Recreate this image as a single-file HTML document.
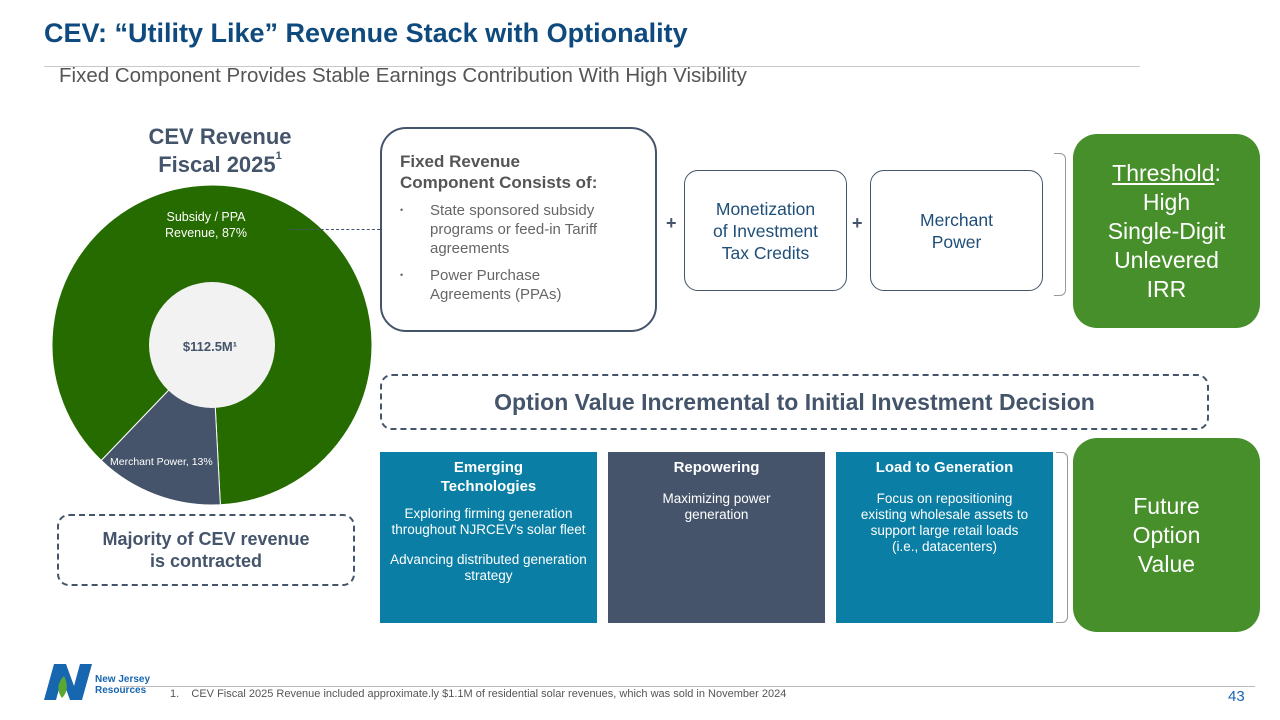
<!DOCTYPE html>
<html><head><meta charset="utf-8"><style>
*{margin:0;padding:0;box-sizing:border-box}
body{width:1280px;height:720px;background:#fff;position:relative;overflow:hidden;font-family:"Liberation Sans",sans-serif;color:#44546a}
.a{position:absolute}
.c{display:flex;flex-direction:column;align-items:center;justify-content:center;text-align:center}
.dash{border:2px dashed #44546a;border-radius:12px}
.blk{color:#fff;text-align:center;padding:6px 8px 0}
.blk b{display:block;font-size:15px;line-height:19px;margin-bottom:14px}
.blk p{font-size:13.5px;line-height:16px}
</style></head><body>
<div class="a" style="left:44px;top:18px;font-size:27px;font-weight:bold;color:#0e4a7e">CEV: “Utility Like” Revenue Stack with Optionality</div>
<div class="a" style="left:44px;top:66px;width:1096px;height:1px;background:#c8c8c8"></div>
<div class="a" style="left:59px;top:64px;font-size:20.5px;color:#555">Fixed Component Provides Stable Earnings Contribution With High Visibility</div>

<div class="a" style="left:100px;top:123px;width:240px;text-align:center;font-size:22px;font-weight:bold;line-height:28px;color:#44546a">CEV Revenue<br>Fiscal 2025<span style="font-size:11px;vertical-align:top;line-height:11px">1</span></div>

<svg class="a" id="donut" style="left:0;top:0" width="400" height="520"></svg>

<div class="a" style="left:290px;top:229px;width:90px;border-top:1px dashed #44546a"></div>

<div class="a dash c" style="left:57px;top:514px;width:298px;height:72px;font-size:18px;font-weight:bold;line-height:22px">Majority of CEV revenue<br>is contracted</div>

<div class="a" style="left:380px;top:127px;width:277px;height:205px;border:2px solid #44546a;border-radius:26px;padding:22px 30px 0 18px">
<div style="font-size:17px;font-weight:bold;line-height:21px;color:#555">Fixed Revenue<br>Component Consists of:</div>
<div style="font-size:15px;line-height:19px;color:#666;margin-top:8px;padding-left:30px;position:relative"><span style="position:absolute;left:0;font-size:9px">•</span>State sponsored subsidy programs or feed-in Tariff agreements</div>
<div style="font-size:15px;line-height:19px;color:#666;margin-top:8px;padding-left:30px;position:relative"><span style="position:absolute;left:0;font-size:9px">•</span>Power Purchase<br>Agreements (PPAs)</div>
</div>
<div class="a" style="left:666px;top:213px;font-size:18px;font-weight:bold">+</div>
<div class="a c" style="left:684px;top:170px;width:163px;height:121px;border:1px solid #44546a;border-radius:14px;font-size:17.5px;line-height:22px;color:#1f4e79">Monetization<br>of Investment<br>Tax Credits</div>
<div class="a" style="left:852px;top:213px;font-size:18px;font-weight:bold">+</div>
<div class="a c" style="left:870px;top:170px;width:173px;height:121px;border:1px solid #44546a;border-radius:14px;font-size:17.5px;line-height:22px;color:#1f4e79">Merchant<br>Power</div>
<div class="a" style="left:1054px;top:153px;width:12px;height:143px;border:1px solid #999;border-left:none;border-radius:0 6px 6px 0"></div>
<div class="a c" style="left:1073px;top:134px;width:187px;height:194px;background:#478f2a;border-radius:24px;color:#fff;font-size:23px;line-height:29px">
<span><u>Threshold</u>:</span>High<br>Single-Digit<br>Unlevered<br>IRR</div>

<div class="a dash c" style="left:380px;top:374px;width:829px;height:56px;font-size:23px;font-weight:bold;color:#44546a">Option Value Incremental to Initial Investment Decision</div>

<div class="a blk" style="left:380px;top:452px;width:217px;height:171px;background:#0a7ea4"><b>Emerging<br>Technologies</b><p style="margin-top:-4px">Exploring firming generation throughout NJRCEV’s solar fleet</p><p style="margin-top:14px">Advancing distributed generation strategy</p></div>
<div class="a blk" style="left:608px;top:452px;width:217px;height:171px;background:#45546b"><b>Repowering</b><p>Maximizing power<br>generation</p></div>
<div class="a blk" style="left:836px;top:452px;width:217px;height:171px;background:#0a7ea4"><b>Load to Generation</b><p>Focus on repositioning<br>existing wholesale assets to<br>support large retail loads<br>(i.e., datacenters)</p></div>
<div class="a" style="left:1056px;top:452px;width:12px;height:171px;border:1px solid #999;border-left:none;border-radius:0 6px 6px 0"></div>
<div class="a c" style="left:1073px;top:438px;width:187px;height:194px;background:#478f2a;border-radius:24px;color:#fff;font-size:23px;line-height:29px">Future<br>Option<br>Value</div>

<div class="a" style="left:120px;top:686px;width:1135px;height:1px;background:#bbb"></div>
<div class="a" style="left:44px;top:664px;width:48px;height:36px">
<svg width="48" height="36"><polygon points="0,36 10,0 22,0 30,22 36,0 48,0 38,36 26,36 18,14 12,36" fill="#1766b0"/><path d="M18 34 C12 26 14 18 20 12 C24 20 24 28 18 34Z" fill="#5aa832"/></svg></div>
<div class="a" style="left:95px;top:674px;font-size:10px;font-weight:bold;line-height:11px;color:#1766b0">New Jersey<br>Resources</div>
<div class="a" style="left:170px;top:688px;font-size:11px;color:#555">1.&nbsp;&nbsp;&nbsp;&nbsp;CEV Fiscal 2025 Revenue included approximate.ly $1.1M of residential solar revenues, which was sold in November 2024</div>
<div class="a" style="left:1228px;top:688px;font-size:15px;color:#1766b0">43</div>

<script>
const categories=["Subsidy / PPA Revenue","Merchant Power"];
const shares=[87,13];
const labels=["Subsidy / PPA\nRevenue, 87%","Merchant Power, 13%"];
const colors=["#256b00","#45546b"];
const svg=document.getElementById('donut');
const NS="http://www.w3.org/2000/svg";
const cx=212,cy=345,R=160,r0=63;
const total=shares.reduce((a,b)=>a+b,0);
const angleScale=v=>v/total*2*Math.PI;
let start=(177-0.87*360)*Math.PI/180;
const pt=(a,rad)=>[cx+rad*Math.sin(a),cy-rad*Math.cos(a)];
shares.forEach((v,i)=>{
  const end=start+angleScale(v);
  const [x1,y1]=pt(start,R),[x2,y2]=pt(end,R);
  const large=end-start>Math.PI?1:0;
  const p=document.createElementNS(NS,'path');
  p.setAttribute('d',`M${cx},${cy} L${x1},${y1} A${R},${R} 0 ${large} 1 ${x2},${y2} Z`);
  p.setAttribute('fill',colors[i]);
  p.setAttribute('stroke','#fff');p.setAttribute('stroke-width','1');
  
  
  svg.appendChild(p);
  start=end;
});
const hole=document.createElementNS(NS,'circle');
hole.setAttribute('cx',cx);hole.setAttribute('cy',cy);hole.setAttribute('r',r0);hole.setAttribute('fill','#f2f2f2');


svg.appendChild(hole);
function txt(x,y,s,size,fill,w,anchor){const t=document.createElementNS(NS,'text');t.setAttribute('x',x);t.setAttribute('y',y);t.setAttribute('font-size',size);t.setAttribute('fill',fill);t.setAttribute('font-family','Liberation Sans, sans-serif');if(w)t.setAttribute('font-weight',w);t.setAttribute('text-anchor',anchor||'middle');t.textContent=s;svg.appendChild(t);return t;}
const l1=labels[0].split("\n");
let t=txt(206,221,l1[0],12.5,'#fff');


t=txt(206,237,l1[1],12.5,'#fff');


t=txt(110,465,labels[1],10.5,'#fff',null,'start');


t=txt(210,351,'$112.5M¹',13,'#44546a','bold');


</script>
</body></html>
